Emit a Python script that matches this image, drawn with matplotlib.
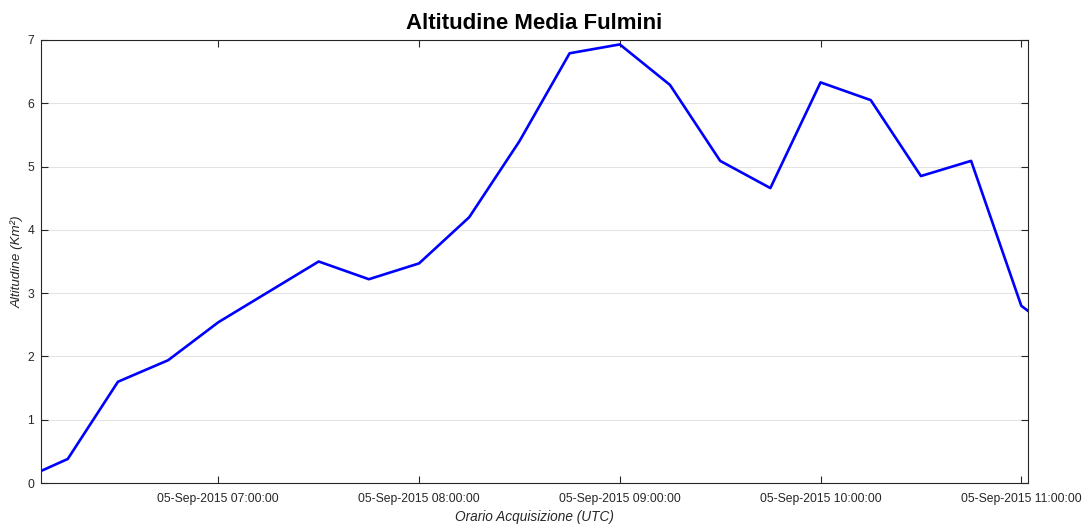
import matplotlib
matplotlib.use("Agg")
import matplotlib.pyplot as plt
import matplotlib.dates as mdates
import pandas as pd

plt.rcParams["font.family"] = ["Liberation Sans", "DejaVu Sans"]

orari = ["2015-09-05 06:07", "2015-09-05 06:15", "2015-09-05 06:30", "2015-09-05 06:45",
         "2015-09-05 07:00", "2015-09-05 07:30", "2015-09-05 07:45", "2015-09-05 08:00",
         "2015-09-05 08:15", "2015-09-05 08:30", "2015-09-05 08:45", "2015-09-05 09:00",
         "2015-09-05 09:15", "2015-09-05 09:30", "2015-09-05 09:45", "2015-09-05 10:00",
         "2015-09-05 10:15", "2015-09-05 10:30", "2015-09-05 10:45", "2015-09-05 11:00",
         "2015-09-05 11:02"]
altitudine = [0.19, 0.38, 1.60, 1.94, 2.54, 3.50, 3.22, 3.47, 4.20, 5.40, 6.79,
              6.93, 6.29, 5.09, 4.66, 6.33, 6.05, 4.85, 5.09, 2.80, 2.72]

t = pd.to_datetime(orari)

fig = plt.figure(figsize=(10.9, 5.24), dpi=100)
ax = fig.add_axes([0.0376, 0.0782, 0.9055, 0.8455])
ax.plot(t, altitudine, color="#0000ff", linewidth=1.9)

ax.set_xlim(t[0], t[-1])
ax.set_ylim(0, 7)
ax.set_yticks(range(0, 8))
ax.xaxis.set_major_locator(mdates.HourLocator())
ax.xaxis.set_major_formatter(mdates.DateFormatter("%d-%b-%Y %H:%M:%S"))

ax.grid(axis="y", color="#e3e3e3", linewidth=0.8)
ax.set_axisbelow(True)
ax.tick_params(direction="in", top=True, right=True, length=5, width=0.8,
               labelsize=8.7, colors="#262626")
ax.tick_params(axis="x", pad=7)
ax.tick_params(axis="y", pad=5)
for s in ax.spines.values():
    s.set_color("#262626")
    s.set_linewidth(0.8)

ax.set_title("Altitudine Media Fulmini", fontsize=16, fontweight="bold", pad=8)
ax.set_xlabel("Orario Acquisizione (UTC)", fontsize=9.8, style="italic", color="#262626", labelpad=4)
ax.set_ylabel("Altitudine (Km²)", fontsize=9.6, style="italic", color="#262626")
ax.yaxis.set_label_coords(-0.0172, 0.5)

fig.savefig("out.png", dpi=100)
